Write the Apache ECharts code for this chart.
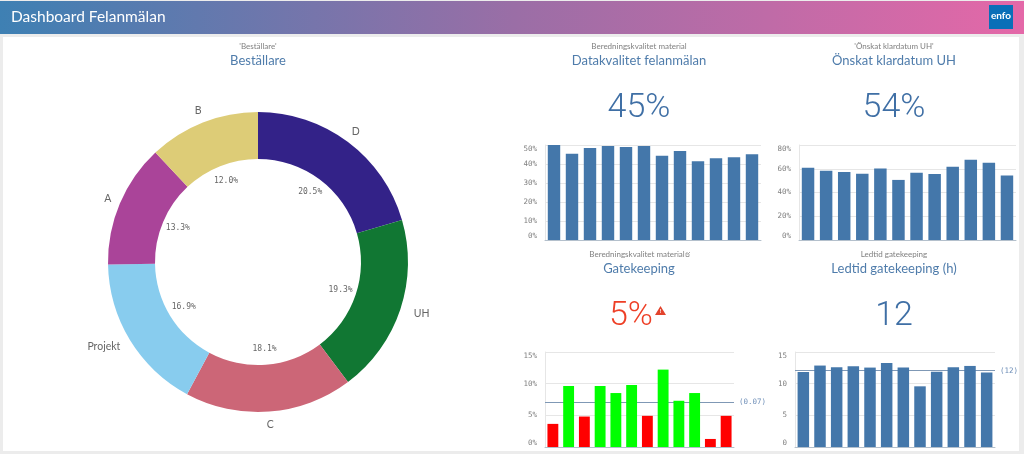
<!DOCTYPE html>
<html>
<head>
<meta charset="utf-8">
<title>Dashboard Felanmälan</title>
<style>
  html, body { margin: 0; padding: 0; background: #ececec; }
  #main { width: 1024px; height: 454px; }
</style>
<script src="https://cdn.jsdelivr.net/npm/echarts@6/dist/echarts.min.js"></script>
</head>
<body>
<div id="main"></div>
<script>
// donut
var pieNames = ['D', 'UH', 'C', 'Projekt', 'A', 'B'];
var pieValues = [20.5, 19.3, 18.1, 16.9, 13.3, 12.0];
var pieColors = ['#332288', '#117733', '#CC6677', '#88CCEE', '#AA4499', '#DDCC77'];

// bar charts, 12 periods each
var periods = ['1', '2', '3', '4', '5', '6', '7', '8', '9', '10', '11', '12'];
var datakvalitet = [50.0, 45.4, 48.4, 49.5, 48.9, 49.5, 44.4, 46.8, 41.4, 43.0, 43.5, 45.1];
var klardatum = [60.8, 58.3, 57.2, 55.8, 60.3, 50.6, 56.7, 55.6, 61.7, 67.5, 65.0, 54.4];
var gatekeeping = [3.65, 9.63, 4.81, 9.63, 8.52, 9.79, 4.92, 12.22, 7.3, 8.52, 1.27, 4.92];
var ledtid = [11.85, 12.86, 12.6, 12.75, 12.54, 13.28, 12.54, 9.58, 11.9, 12.6, 12.8, 11.75];

var gatekeepingRef = 7.04;
var ledtidRef = 12.06;

var BLUE = '#4477aa';
var TITLE = '#4f7cab';
var GREY = '#808080';
var LABEL_FONT = '"DejaVu Sans Mono"';
var TEXT_FONT = 'Lato';
var KPI_FONT = 'Roboto';

function text(x, y, str, size, color, extra) {
  return {
    type: 'text', silent: true, z: 20,
    style: Object.assign({
      x: x, y: y, text: str, fontSize: size, fill: color,
      fontFamily: TEXT_FONT, align: 'center', verticalAlign: 'middle'
    }, extra || {})
  };
}

function kpi(x, y, str, color) {
  return text(x, y, str, 34, color || '#3f6fa5', { fontFamily: KPI_FONT, fontWeight: 300 });
}

function heading(x, y, sub, title) {
  return [
    text(x, y, sub, 8, GREY),
    text(x, y + 14.5, title, 13, TITLE)
  ];
}

// one small bar chart: index is shared by grid, axes and series
function barParts(index, box, max, interval, suffix, data, color, ref, refLabel) {
  return {
    grid: { left: box[0], top: box[1], width: box[2], height: box[3] },
    xAxis: {
      type: 'category', gridIndex: index, data: periods,
      axisTick: { show: false }, axisLabel: { show: false },
      axisLine: { lineStyle: { color: '#b4c0cc', width: 1 } }
    },
    yAxis: {
      type: 'value', gridIndex: index, min: 0, max: max, interval: interval,
      axisLine: { show: true, lineStyle: { color: '#e6e6e6' } },
      axisTick: { show: false },
      splitLine: { lineStyle: { color: '#e6e6e6' } },
      axisLabel: {
        formatter: '{value}' + suffix, color: GREY, fontSize: 7.5, margin: 8,
        fontFamily: LABEL_FONT,
        verticalAlignMinLabel: 'bottom', verticalAlignMaxLabel: 'top'
      }
    },
    series: {
      type: 'bar', xAxisIndex: index, yAxisIndex: index, data: data,
      barCategoryGap: '31%', silent: true,
      itemStyle: { color: color },
      markLine: ref === undefined ? undefined : {
        silent: true, symbol: 'none', z: 1,
        lineStyle: { color: '#7f98b5', width: 1, type: 'solid' },
        label: { position: 'end', formatter: refLabel, color: '#6f8fb8', fontSize: 7.5, fontFamily: LABEL_FONT, distance: 5 },
        data: [{ yAxis: ref }]
      }
    }
  };
}

var charts = [
  barParts(0, [545, 145, 216, 95], 50, 10, '%', datakvalitet, BLUE),
  barParts(1, [799, 145, 217, 95], 80, 20, '%', klardatum, BLUE),
  barParts(2, [545, 352, 189, 95], 15, 5, '%', gatekeeping, function (p) {
    return p.value < 5 ? '#ff0000' : '#00ff00';
  }, gatekeepingRef, '(0.07)'),
  barParts(3, [795, 352, 200, 95], 15, 5, '', ledtid, BLUE, ledtidRef, '(12)')
];

var pieData = pieNames.map(function (n, i) {
  return { name: n, value: pieValues[i], itemStyle: { color: pieColors[i] } };
});
var hiddenPieData = pieNames.map(function (n, i) {
  return { name: n, value: pieValues[i] };
});
// the two side labels sit a little further out than the ring
var nameRingData = pieNames.map(function (n, i) {
  var item = { name: n, value: pieValues[i] };
  if (n === 'Projekt') item.label = { padding: [0, 30, 0, 0] };
  if (n === 'UH') item.label = { padding: [0, 0, 0, 18] };
  return item;
});

var graphics = [
  // panel and header
  { type: 'rect', silent: true, z: 0, shape: { x: 3, y: 37, width: 1016, height: 414 }, style: { fill: '#ffffff' } },
  {
    type: 'rect', silent: true, z: 1, shape: { x: 0, y: 1, width: 1024, height: 33 },
    style: {
      fill: {
        type: 'linear', x: 0, y: 0, x2: 1, y2: 0,
        colorStops: [{ offset: 0, color: '#3e80b3' }, { offset: 0.5, color: '#9a6ea6' }, { offset: 1, color: '#e468a8' }]
      }
    }
  },
  text(11, 17, 'Dashboard Felanmälan', 15.5, '#ffffff', { align: 'left' }),
  { type: 'rect', silent: true, z: 10, shape: { x: 989, y: 5, width: 24, height: 24 }, style: { fill: '#0a6fb8' } },
  text(1001, 16, 'enfo', 10, '#ffffff', { fontWeight: 'bold' }),

  text(258, 46, "'Beställare'", 8, GREY),
  text(258, 60.5, 'Beställare', 13, TITLE),
  text(637, 254, 'Beredningskvalitet material', 8, GREY),
  text(639, 268.5, 'Gatekeeping', 13, TITLE)
].concat(
  heading(639, 46, 'Beredningskvalitet material', 'Datakvalitet felanmälan'),
  heading(894, 46, "'Önskat klardatum UH'", 'Önskat klardatum UH'),
  heading(894, 254, 'Ledtid gatekeeping', 'Ledtid gatekeeping (h)'),
  [
    kpi(639, 108, '45%'),
    kpi(894, 108, '54%'),
    kpi(894, 316, '12'),
    kpi(631, 316, '5%', '#ee3f26'),
    { type: 'polygon', silent: true, z: 20, shape: { points: [[660.5, 306], [666, 315], [655, 315]] }, style: { fill: '#e2432c' } },
    text(660.5, 311.5, '!', 6, '#ffffff', { fontWeight: 'bold' }),
    // external link icon
    { type: 'polyline', silent: true, z: 20, shape: { points: [[689, 254], [689, 256.5], [686, 256.5], [686, 253], [688, 253]] }, style: { fill: 'none', stroke: '#808080', lineWidth: 0.7 } },
    { type: 'polyline', silent: true, z: 20, shape: { points: [[687.5, 254.5], [690, 252]] }, style: { fill: 'none', stroke: '#808080', lineWidth: 0.7 } }
  ]
);

var chart = echarts.init(document.getElementById('main'));
chart.setOption({
  animation: false,
  backgroundColor: '#ececec',
  graphic: { elements: graphics },
  grid: charts.map(function (c) { return c.grid; }),
  xAxis: charts.map(function (c) { return c.xAxis; }),
  yAxis: charts.map(function (c) { return c.yAxis; }),
  series: charts.map(function (c) { return c.series; }).concat([
    {
      type: 'pie', center: [258, 262], radius: [103, 150], startAngle: 90, silent: true,
      data: pieData,
      label: { show: false },
      labelLine: { show: false }
    },
    // transparent rings only carry the labels: percentages in the hole, names outside
    {
      type: 'pie', center: [258, 262], radius: [66, 102], startAngle: 90, silent: true,
      data: hiddenPieData,
      itemStyle: { color: 'transparent' },
      label: {
        position: 'inside', color: '#666', fontSize: 8, fontFamily: LABEL_FONT,
        formatter: function (p) { return p.value.toFixed(1) + '%'; }
      },
      labelLine: { show: false }
    },
    {
      type: 'pie', center: [258, 262], radius: [148, 172], startAngle: 90, silent: true,
      data: nameRingData,
      itemStyle: { color: 'transparent' },
      label: { position: 'inside', formatter: '{b}', color: '#666', fontSize: 10.5, fontFamily: TEXT_FONT },
      labelLine: { show: false }
    }
  ])
});
</script>
</body>
</html>
